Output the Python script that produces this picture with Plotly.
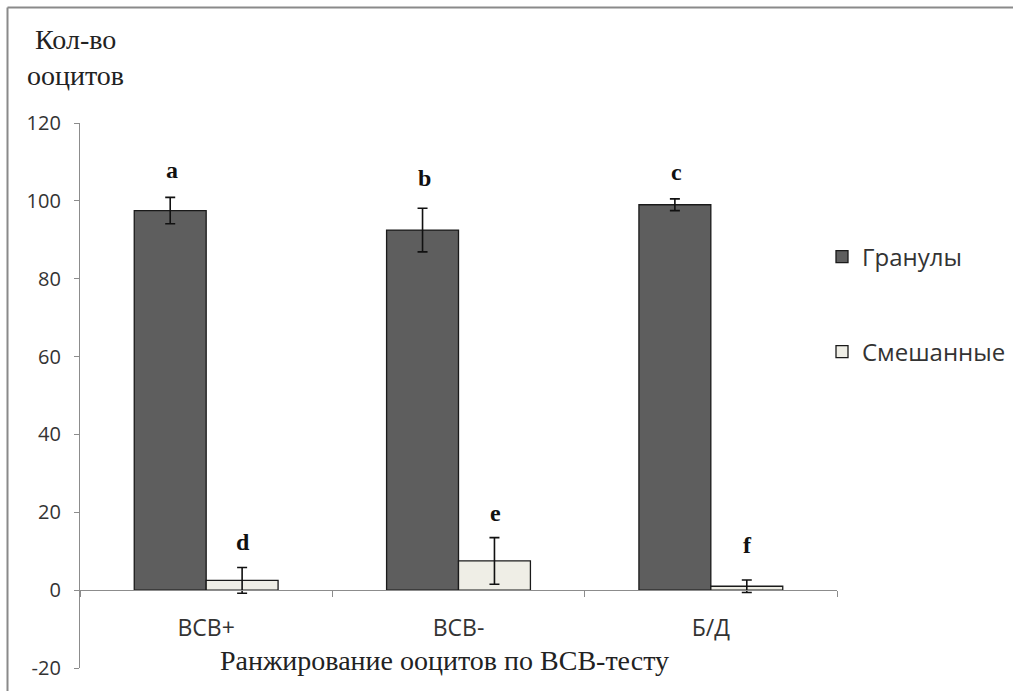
import plotly.graph_objects as go

categories = ["ВСВ+", "ВСВ-", "Б/Д"]
granules = [97.5, 92.5, 99.0]
granules_err = [3.4, 5.6, 1.5]
mixed = [2.5, 7.5, 1.0]
mixed_err = [3.3, 6.0, 1.6]
granule_letters = ["a", "b", "c"]
mixed_letters = ["d", "e", "f"]
granule_letter_y = [108.0, 105.9, 107.4]
mixed_letter_y = [12.3, 19.9, 11.6]
y_ticks = [-20, 0, 20, 40, 60, 80, 100, 120]
y_ticktext = ["-20", "0", "20", "40", "60", "80", "100", "120"]

W, H = 1013, 691
L, R, T, B = 80, 176, 123, 23
pw, ph = W - L - R, H - T - B

def px_x(x):
    return (x - L) / pw

def px_y(y):
    return (H - B - y) / ph

fig = go.Figure()
fig.add_trace(go.Bar(
    x=categories, y=granules, name="Гранулы", legend="legend", showlegend=True,
    marker=dict(color="#5e5e5e", line=dict(color="#1a1a1a", width=1.3)),
    error_y=dict(type="data", array=granules_err, color="#111111", thickness=1.6, width=5),
))
fig.add_trace(go.Bar(
    x=categories, y=mixed, name="Смешанные", legend="legend2", showlegend=True,
    marker=dict(color="#efeee6", line=dict(color="#1a1a1a", width=1.3)),
    error_y=dict(type="data", array=mixed_err, color="#111111", thickness=1.6, width=5),
))

annotations = []
for c, t, y in zip(categories, granule_letters, granule_letter_y):
    annotations.append(dict(x=c, y=y, text=f"<b>{t}</b>", xref="x", yref="y", showarrow=False,
                            xshift=-34, font=dict(family="Liberation Serif", size=24, color="#111111")))
for c, t, y in zip(categories, mixed_letters, mixed_letter_y):
    annotations.append(dict(x=c, y=y, text=f"<b>{t}</b>", xref="x", yref="y", showarrow=False,
                            xshift=37, font=dict(family="Liberation Serif", size=24, color="#111111")))

annotations.append(dict(x=px_x(33), y=px_y(40), xref="paper", yref="paper", text="Кол-во",
                        showarrow=False, xanchor="left", yanchor="middle",
                        font=dict(family="Liberation Serif", size=28, color="#222222")))
annotations.append(dict(x=px_x(25), y=px_y(76), xref="paper", yref="paper", text="ооцитов",
                        showarrow=False, xanchor="left", yanchor="middle",
                        font=dict(family="Liberation Serif", size=28, color="#222222")))
annotations.append(dict(x=px_x(444), y=px_y(660), xref="paper", yref="paper",
                        text="Ранжирование ооцитов по ВСВ-тесту",
                        showarrow=False, xanchor="center", yanchor="middle",
                        font=dict(family="Liberation Serif", size=28, color="#222222")))

shapes = [
    dict(type="line", xref="paper", yref="paper", x0=px_x(7.5), x1=px_x(1013), y0=px_y(7.5), y1=px_y(7.5),
         line=dict(color="#8a8a8a", width=2)),
    dict(type="line", xref="paper", yref="paper", x0=px_x(7.5), x1=px_x(7.5), y0=px_y(7.5), y1=px_y(691),
         line=dict(color="#8a8a8a", width=2)),
]

fig.update_layout(
    width=W, height=H,
    margin=dict(l=L, r=R, t=T, b=B, autoexpand=False),
    paper_bgcolor="white", plot_bgcolor="white",
    barmode="group", bargap=0.43, bargroupgap=0,
    showlegend=True,
    font=dict(family="Open Sans", size=15, color="#333333"),
    annotations=annotations, shapes=shapes,
    xaxis=dict(
        showline=True, linecolor="#8c8c8c", linewidth=1.3,
        ticks="outside", tickson="boundaries", ticklen=6, tickcolor="#8c8c8c",
        anchor="free", position=20 / 140, ticklabelstandoff=17, automargin=False,
        tickfont=dict(family="Open Sans", size=23, color="#333333"),
        showgrid=False, zeroline=False,
    ),
    yaxis=dict(
        range=[-20, 120], tickmode="array", tickvals=y_ticks, ticktext=y_ticktext,
        showline=True, linecolor="#8c8c8c", linewidth=1.3, automargin=False,
        ticks="outside", ticklen=5, tickcolor="#8c8c8c", ticklabelstandoff=9,
        tickfont=dict(family="Open Sans", size=20, color="#333333"),
        showgrid=False, zeroline=False,
    ),
    legend=dict(x=px_x(822), y=px_y(257), xanchor="left", yanchor="middle",
                font=dict(family="Open Sans", size=24, color="#333333"), bgcolor="rgba(0,0,0,0)"),
    legend2=dict(x=px_x(822), y=px_y(352), xanchor="left", yanchor="middle",
                 font=dict(family="Open Sans", size=24, color="#333333"), bgcolor="rgba(0,0,0,0)"),
)

fig.write_html("out.html", config={"displayModeBar": False},
               post_script="document.body.style.margin='0px';document.body.style.overflow='hidden';")
